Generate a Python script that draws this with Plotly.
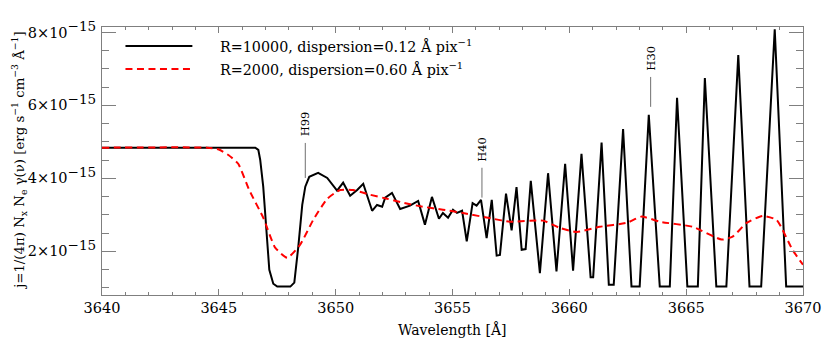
import numpy as np
import plotly.graph_objects as go

# ---- data (flux in units of 1e-15 erg s^-1 cm^-3 A^-1) ----
wave_hi = [3640.00, 3646.56, 3646.69, 3646.77, 3646.90, 3647.03, 3647.16, 3647.33, 3647.50, 3648.06,
           3648.23, 3648.40, 3648.57, 3648.70, 3648.87, 3649.25, 3649.64, 3650.06, 3650.32, 3650.62,
           3650.92, 3651.18, 3651.56, 3651.77, 3651.99, 3652.12, 3652.41, 3652.76, 3653.18, 3653.53,
           3653.82, 3654.12, 3654.42, 3654.59, 3654.81, 3655.02, 3655.19, 3655.41, 3655.61, 3655.86,
           3656.03, 3656.22, 3656.46, 3656.68, 3656.89, 3657.03, 3657.29, 3657.53, 3657.74, 3657.96,
           3658.13, 3658.35, 3658.74, 3659.09, 3659.45, 3659.82, 3660.16, 3660.52, 3660.91, 3661.02,
           3661.38, 3661.69, 3661.90, 3662.30, 3662.66, 3663.01, 3663.40, 3663.87, 3664.30, 3664.61,
           3665.05, 3665.50, 3665.80, 3666.29, 3666.72, 3667.23, 3667.71, 3668.21, 3668.79, 3669.28,
           3670.00]
flux_hi = [4.84, 4.84, 4.78, 4.51, 3.77, 2.59, 1.49, 1.11, 1.03, 1.03,
           1.14, 2.12, 3.27, 3.77, 4.04, 4.15, 4.01, 3.66, 3.88, 3.52,
           3.68, 3.85, 3.11, 3.27, 3.22, 3.47, 3.60, 3.16, 3.25, 3.38,
           2.73, 3.49, 2.89, 3.05, 2.92, 3.14, 3.05, 3.11, 2.27, 3.32,
           3.25, 3.41, 2.36, 3.41, 1.88, 1.90, 3.58, 2.57, 3.76, 2.04,
           2.06, 3.93, 1.40, 4.14, 1.45, 4.40, 1.47, 4.67, 1.29, 1.29,
           4.98, 1.08, 1.08, 5.35, 1.03, 1.03, 5.74, 1.03, 1.03, 6.21,
           1.03, 1.03, 6.75, 1.03, 1.03, 7.38, 1.03, 1.03, 8.09, 1.03,
           1.03]

wave_lo = [3640.00, 3644.50, 3645.00, 3645.41, 3645.83, 3646.30, 3646.90, 3647.41, 3647.93, 3648.48,
           3649.04, 3649.64, 3650.19, 3650.75, 3651.47, 3652.20, 3652.88, 3653.74, 3654.59, 3655.45,
           3656.73, 3657.46, 3658.87, 3659.59, 3660.32, 3661.30, 3662.46, 3663.10, 3663.87, 3665.28,
           3666.52, 3666.99, 3667.59, 3668.27, 3668.87, 3669.55, 3670.00]
flux_lo = [4.84, 4.84, 4.79, 4.64, 4.40, 3.68, 2.92, 2.10, 1.82, 2.18,
           2.86, 3.44, 3.68, 3.68, 3.55, 3.44, 3.33, 3.22, 3.14, 3.05,
           2.89, 2.81, 2.84, 2.64, 2.53, 2.67, 2.78, 2.95, 2.81, 2.67,
           2.32, 2.40, 2.78, 2.97, 2.86, 2.04, 1.63]

series_names = ["R=10000, dispersion=0.12 Å pix<sup>−1</sup>",
                "R=2000, dispersion=0.60 Å pix<sup>−1</sup>"]

marker_labels = ["H99", "H40", "H30"]
marker_waves = [3648.70, 3656.26, 3663.48]

x_ticks = [3640, 3645, 3650, 3655, 3660, 3665, 3670]
y_ticks = [2, 4, 6, 8]
y_ticktext = ["%d×10<sup><span style='font-size:13.5px'>−15</span></sup>" % v for v in y_ticks]

SCALE = 1e-15
FONT = "DejaVu Serif"
AXC = "#7f7f7f"

fig = go.Figure()
fig.add_trace(go.Scatter(x=wave_hi, y=np.array(flux_hi) * SCALE, mode="lines",
                         line=dict(color="black", width=2), name=series_names[0],
                         showlegend=False))
fig.add_trace(go.Scatter(x=wave_lo, y=np.array(flux_lo) * SCALE, mode="lines",
                         line=dict(color="#ff0000", width=2, dash="7px,4.5px",
                                   shape="spline", smoothing=0.5),
                         name=series_names[1], showlegend=False))

# marker lines + labels
line_lo = [4.01, 3.47, 5.96]
line_hi = [4.97, 4.29, 6.78]
label_y = [5.49, 4.81, 7.30]
for lab, w, y0, y1, ly in zip(marker_labels, marker_waves, line_lo, line_hi, label_y):
    fig.add_shape(type="line", xref="x", yref="y", x0=w, x1=w, y0=y0 * SCALE, y1=y1 * SCALE,
                  line=dict(color="#6f6f6f", width=1))
    fig.add_annotation(x=w, y=ly * SCALE, xref="x", yref="y", text=lab, textangle=-90,
                       showarrow=False, xanchor="center", yanchor="middle",
                       font=dict(family=FONT, size=11.5, color="black"))

# manual legend (positions in screen pixels converted to paper fractions)
W, H = 702.0, 268.5
def px(xp): return (xp - 101.5) / W
def py(yp): return (295.5 - yp) / H
leg_y = [46, 69]
leg_style = [dict(color="black", width=2), dict(color="#ff0000", width=2, dash="7px,4.5px")]
for name, yy, st in zip(series_names, leg_y, leg_style):
    fig.add_shape(type="line", xref="paper", yref="paper", x0=px(125), x1=px(192),
                  y0=py(yy), y1=py(yy), line=st)
    fig.add_annotation(x=px(218), y=py(yy), xref="paper", yref="paper", text=name,
                       showarrow=False, xanchor="left", yanchor="middle",
                       font=dict(family=FONT, size=14.3, color="black"))

# axis titles
fig.add_annotation(x=px(18.5), y=py(161), xref="paper", yref="paper", textangle=-90,
                   text="j=1/(4π) N<sub>x</sub> N<sub>e</sub> γ(ν) [erg s<sup>−1</sup> cm<sup>−3</sup> Å<sup>−1</sup>]",
                   showarrow=False, xanchor="center", yanchor="middle",
                   font=dict(family=FONT, size=13.3, color="black"))
fig.add_annotation(x=0.5, y=py(330), xref="paper", yref="paper", text="Wavelength [Å]",
                   showarrow=False, xanchor="center", yanchor="middle",
                   font=dict(family=FONT, size=14, color="black"))

# page body has an 8px margin, so the figure is 822x342 and offset by 8px
fig.update_layout(
    width=822, height=342,
    margin=dict(l=93.5, r=26.7, t=19, b=54.5, autoexpand=False),
    paper_bgcolor="white", plot_bgcolor="white",
    font=dict(family=FONT, color="black"),
    xaxis=dict(range=[3640, 3670], tickvals=x_ticks, ticks="inside", ticklen=6, automargin=False,
               tickcolor=AXC, showline=True, linecolor=AXC, linewidth=1, mirror="allticks",
               showgrid=False, zeroline=False, tickfont=dict(family=FONT, size=14.5),
               minor=dict(dtick=1, tick0=3640, ticks="inside", ticklen=3, tickcolor=AXC, showgrid=False)),
    yaxis=dict(range=[0.8e-15, 8.15e-15], tickvals=[v * SCALE for v in y_ticks], ticktext=y_ticktext,
               ticks="inside", ticklen=14, tickcolor=AXC, showline=True, linecolor=AXC, linewidth=1,
               automargin=False, ticklabelstandoff=2,
               mirror="allticks", showgrid=False, zeroline=False, tickfont=dict(family=FONT, size=14.5),
               minor=dict(dtick=0.5e-15, tick0=0, ticks="inside", ticklen=7, tickcolor=AXC, showgrid=False)),
)

fig.write_html("out.html")
